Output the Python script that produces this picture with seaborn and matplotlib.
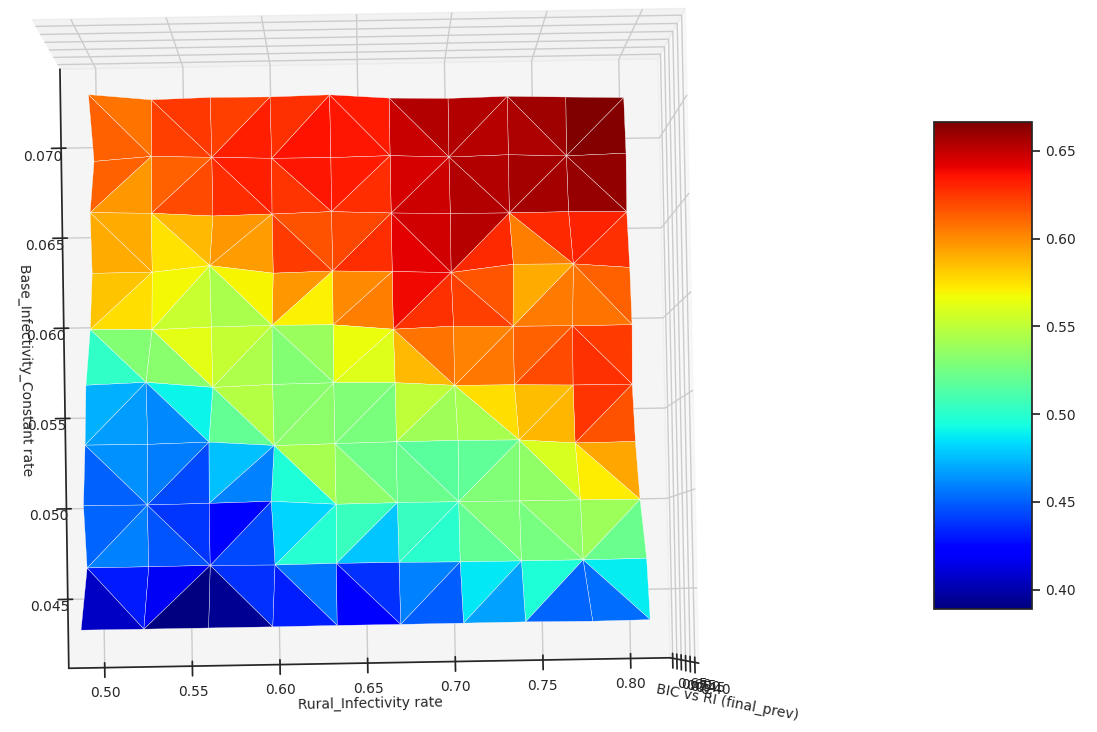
import numpy as np
import seaborn as sns
import matplotlib
matplotlib.use("Agg")
import matplotlib.pyplot as plt

sns.set_theme(style="white", rc={"grid.color": ".8", "grid.linewidth": 1.0, "axes.edgecolor": ".15",
                                 "font.size": 10, "axes.labelsize": 10, "xtick.labelsize": 10, "ytick.labelsize": 10})
plt.rcParams['font.family'] = ['DejaVu Sans']

rural_rate = [0.4997, 0.5333, 0.5669, 0.6005, 0.6341, 0.6677, 0.7013, 0.7349, 0.7685, 0.8020]
base_rate = [0.0722, 0.0690, 0.0658, 0.0626, 0.0594, 0.0562, 0.0530, 0.0498, 0.0466, 0.0434]

# final_prev per grid point, one row per base rate
final_prev = [
    [.581, .627, .617, .621, .613, .645, .655, .647, .660, .672],
    [.646, .613, .629, .646, .649, .641, .661, .650, .669, .655],
    [.580, .596, .632, .623, .610, .633, .648, .652, .650, .661],
    [.596, .596, .534, .630, .617, .635, .658, .577, .584, .635],
    [.558, .575, .551, .544, .551, .625, .598, .612, .619, .619],
    [.490, .460, .562, .529, .519, .537, .600, .608, .630, .633],
    [.467, .474, .448, .549, .532, .513, .508, .520, .614, .605],
    [.435, .450, .432, .396, .545, .525, .528, .541, .542, .558],
    [.470, .458, .432, .504, .447, .459, .512, .520, .517, .489],
    [.382, .364, .373, .376, .415, .406, .430, .453, .384, .459],
]

# diagonal of each grid cell, b = "\" and f = "/"
diagonals = ["bbffbbfbf", "ffbbffbfb", "bbfbfbfbf", "ffbfffbfb", "bbfbfbffb",
             "fbbfffbff", "bffbbbfbb", "fbffffbbf", "bfbbbfffb"]

tris = []
for r, row in enumerate(diagonals):
    for c, d in enumerate(row):
        a, b = r*10+c, r*10+c+1
        e, f = a+10, b+10
        if d == "b":
            tris += [[a, b, f], [a, e, f]]
        else:
            tris += [[a, b, e], [b, e, f]]

X, Y = np.meshgrid(rural_rate, base_rate)
Z = np.array(final_prev)

fig = plt.figure(figsize=(10.97, 7.32), dpi=100)
ax = fig.add_axes([-0.340, -0.164, 1.32, 1.33], projection='3d')
surf = ax.plot_trisurf(X.ravel(), Y.ravel(), Z.ravel(), triangles=tris, cmap="jet",
                       linewidth=0.25, edgecolor="white", antialiased=True)
surf.set_clim(0.389, 0.6665)
ax.set_xlim(0.4795, 0.8225)
ax.set_ylim(0.0412, 0.0744)
ax.set_zlim(0.682, 0.36)
ax.view_init(elev=87.3, azim=-91)
ax.set_xlabel("Rural_Infectivity rate")
ax.set_ylabel("Base_Infectivity_Constant rate")
ax.set_zlabel("BIC vs RI (final_prev)")
ax.zaxis.set_ticks_position('lower')
ax.zaxis.set_label_position('lower')

cax = fig.add_axes([934/1097, 1-609/732, 98/1097, 487/732])
fig.colorbar(surf, cax=cax)

fig.savefig("out.png", dpi=100)
